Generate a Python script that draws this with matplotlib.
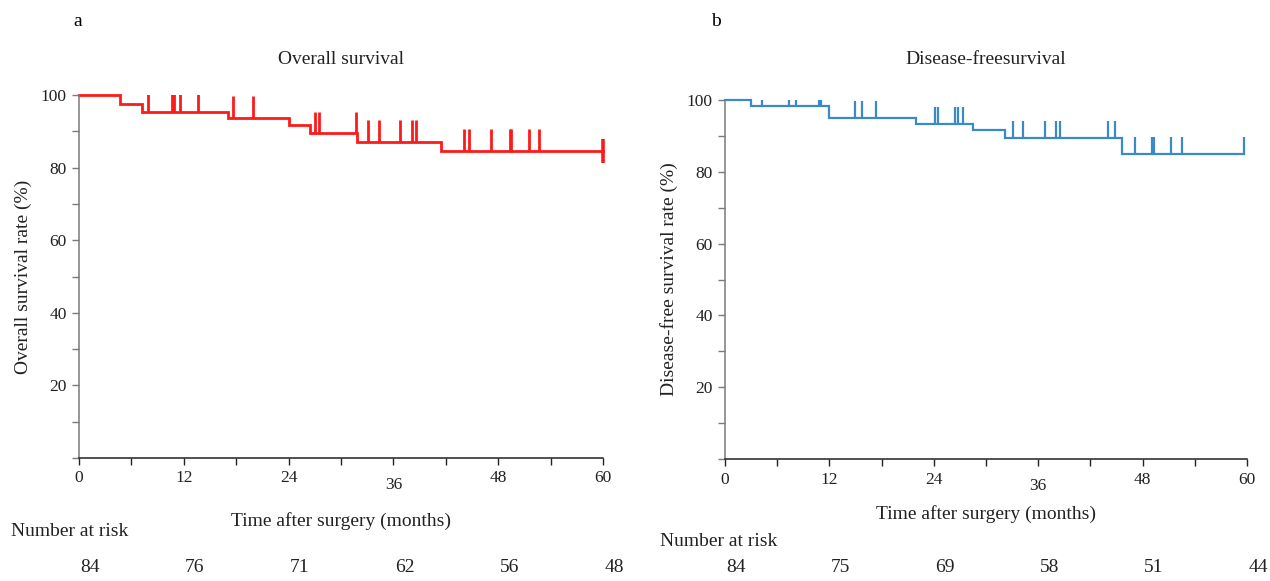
import matplotlib
matplotlib.use("Agg")
import matplotlib.pyplot as plt
import numpy as np
from matplotlib.transforms import ScaledTranslation

# ---------------- data ----------------
os_times = [0, 4.7, 7.2, 17.1, 24.0, 26.4, 31.8, 41.4]
os_surv = [100, 97.6, 95.3, 93.7, 91.7, 89.4, 87.1, 84.6]
os_end = 60
os_censor = [7.9, 10.6, 10.9, 11.6, 13.6, 17.6, 19.9, 27.0, 27.5, 31.7,
             33.1, 34.3, 36.7, 38.1, 38.6, 44.1, 44.6, 47.2, 49.3, 49.5,
             51.5, 52.7]

dfs_times = [0, 3.0, 11.9, 22.0, 28.5, 32.2, 45.6]
dfs_surv = [100, 98.3, 95.1, 93.3, 91.7, 89.5, 84.9]
dfs_end = 59.7
dfs_censor = [4.2, 7.3, 8.2, 10.8, 11.0, 14.9, 15.7, 17.4, 24.1, 24.5,
              26.4, 26.8, 27.4, 33.1, 34.2, 36.8, 38.1, 38.5, 44.0, 44.8,
              47.1, 49.1, 49.3, 51.3, 52.5, 59.7]

risk_times = [0, 12, 24, 36, 48, 60]
os_risk = [84, 76, 71, 62, 56, 48]
dfs_risk = [84, 75, 69, 58, 51, 44]

panel_letters = ["a", "b"]
titles = ["Overall survival", "Disease-freesurvival"]
ylabels = ["Overall survival rate (%)", "Disease-free survival rate (%)"]
xlabel = "Time after surgery (months)"

# ---------------- style ----------------
plt.rcParams['font.family'] = ['Liberation Serif', 'DejaVu Serif']
FS_TICK = 12.5
FS = 14

fig = plt.figure(figsize=(12.70, 5.81), dpi=100)
ax1 = fig.add_axes([79/1270, 1-458/581, 524/1270, 363/581])
ax2 = fig.add_axes([725/1270, 1-459/581, 522/1270, 359/581])


def level_at(times, surv, t):
    idx = np.searchsorted(np.array(times), np.array(t), side='right') - 1
    return np.array(surv)[idx]


def setup(ax, title, ylabel, risk, title_pad, risk_label_pos, risk_y, xl_pad):
    ax.set_xlim(0, 60)
    ax.set_ylim(0, 100)
    for s in ['top', 'right']:
        ax.spines[s].set_visible(False)
    ax.spines['left'].set_color('#7a7a7a')
    ax.spines['bottom'].set_color('#222222')
    ax.spines['left'].set_linewidth(1.1)
    ax.spines['bottom'].set_linewidth(1.1)
    ax.set_xticks(np.arange(0, 61, 6))
    ax.set_xticklabels([str(v) if v % 12 == 0 else '' for v in range(0, 61, 6)])
    ax.set_yticks(np.arange(0, 101, 10))
    ax.set_yticklabels(['' if (v == 0 or v % 20) else str(v) for v in range(0, 101, 10)])
    ax.tick_params(axis='x', direction='out', length=5, width=1, colors='#222222',
                   labelsize=FS_TICK, pad=4, labelcolor='#222222')
    ax.tick_params(axis='y', direction='out', length=5, width=1, colors='#7a7a7a',
                   labelsize=FS_TICK, pad=4, labelcolor='#222222')
    for lab in ax.get_xticklabels():
        if lab.get_text() == '36':
            lab.set_transform(lab.get_transform() +
                              ScaledTranslation(0, -4.5/72, fig.dpi_scale_trans))
    ax.set_title(title, fontsize=FS, pad=title_pad, color='#222222')
    ax.set_ylabel(ylabel, fontsize=FS, labelpad=6, color='#222222')
    ax.set_xlabel(xlabel, fontsize=FS, labelpad=xl_pad, color='#222222')
    # number at risk
    trans = matplotlib.transforms.blended_transform_factory(ax.transData, fig.transFigure)
    off = ScaledTranslation(8/72, 0, fig.dpi_scale_trans)
    for t, n in zip(risk_times, risk):
        ax.text(t, risk_y, str(n), transform=trans + off, ha='center', va='center',
                fontsize=FS, color='#222222', clip_on=False)
    fig.text(risk_label_pos[0], risk_label_pos[1], "Number at risk", fontsize=FS,
             ha='left', va='center', color='#222222')


setup(ax1, titles[0], ylabels[0], os_risk, 22, (11/1270, 1-532/581), 1-567/581, 14)
setup(ax2, titles[1], ylabels[1], dfs_risk, 26, (660/1270, 1-541/581), 1-568/581, 8)

fig.text(78/1270, 1-22/581, panel_letters[0], fontsize=FS, ha='center', va='center')
fig.text(716/1270, 1-22/581, panel_letters[1], fontsize=FS, ha='center', va='center')

# ---------------- curves ----------------
red = '#ff1a1a'
blue = '#3a89c9'

ax1.step(os_times + [os_end], os_surv + [os_surv[-1]], where='post', color=red,
         lw=2.0, clip_on=False, solid_joinstyle='miter')
lv = level_at(os_times, os_surv, os_censor)
ax1.vlines(os_censor, lv, lv + 5.9, color=red, lw=2.0, clip_on=True)
ax1.vlines(os_end, os_surv[-1] - 3.3, os_surv[-1] + 3.3, color=red, lw=2.6, clip_on=False)

ax2.step(dfs_times + [dfs_end], dfs_surv + [dfs_surv[-1]], where='post', color=blue,
         lw=1.6, clip_on=False, solid_joinstyle='miter')
lv2 = level_at(dfs_times, dfs_surv, dfs_censor)
ax2.vlines(dfs_censor, lv2, lv2 + 4.7, color=blue, lw=1.6, clip_on=True)

fig.savefig("out.png", dpi=100)
